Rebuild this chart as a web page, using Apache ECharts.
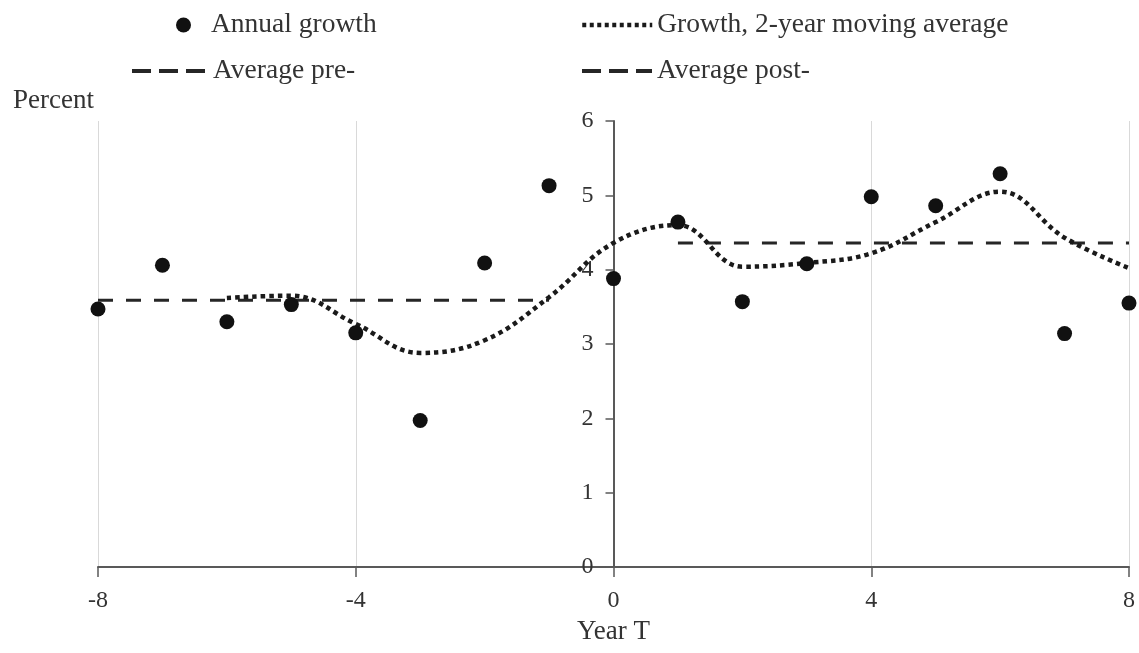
<!DOCTYPE html>
<html>
<head>
<meta charset="utf-8">
<script src="https://cdn.jsdelivr.net/npm/echarts@6/dist/echarts.min.js"></script>
<style>
html,body{margin:0;padding:0;background:#fff;}
#chart{width:1139px;height:653px;}
</style>
</head>
<body>
<div id="chart"></div>
<script>
var years = [-8,-7,-6,-5,-4,-3,-2,-1,0,1,2,3,4,5,6,7,8];
var annualGrowth = [3.47,4.06,3.30,3.53,3.15,1.97,4.09,5.13,3.88,4.64,3.57,4.08,4.98,4.86,5.29,3.14,3.55];
var maYears = [-6,-5,-4,-3,-2,-1,0,1,2,3,4,5,6,7,8];
var maValues = [3.62,3.65,3.27,2.88,3.05,3.63,4.36,4.60,4.04,4.09,4.22,4.64,5.05,4.43,4.02];
var preYears = [-8,-1];
var preAvg = 3.59;
var postYears = [1,8];
var postAvg = 4.36;

var FONT = '"Liberation Serif", "Times New Roman", serif';
var TXT = '#333333';
var INK = '#111111';

var scatterData = years.map(function(y,i){return [y, annualGrowth[i]];});
var maData = maYears.map(function(y,i){return [y, maValues[i]];});
var preData = preYears.map(function(y){return [y, preAvg];});
var postData = postYears.map(function(y){return [y, postAvg];});

var chart = echarts.init(document.getElementById('chart'), null, {renderer:'canvas'});
var legendText = {fontFamily: FONT, fontSize: 27.5, color: TXT};
var GRID_LEFT = 98, GRID_RIGHT = 10, W = 1139;
var plotW = W - GRID_LEFT - GRID_RIGHT;
var dashLegendLine = {width: 4, type: [19,8], color: '#262626'};
var dotLegendLine = {width: 4.5, type: [4,3.5], color: '#1a1a1a'};
var option = {
  animation: false,
  backgroundColor: '#ffffff',
  textStyle: {fontFamily: FONT},
  title: {
    text: 'Percent', left: 8, top: 82,
    textStyle: {fontFamily: FONT, fontSize: 27, fontWeight: 'normal', color: TXT}
  },
  legend: [
    {data: ['Annual growth'], left: 176, top: 11, padding: 0, itemWidth: 15, itemHeight: 15,
     textStyle: Object.assign({padding: [0,0,0,15]}, legendText)},
    {data: ['Growth, 2-year moving average'], left: 580, top: 11, padding: 0, itemWidth: 70, itemHeight: 14,
     itemStyle: {opacity: 0}, lineStyle: dotLegendLine, textStyle: legendText},
    {data: ['Average pre-'], left: 130, top: 57, padding: 0, itemWidth: 76, itemHeight: 14,
     itemStyle: {opacity: 0}, lineStyle: dashLegendLine, textStyle: legendText},
    {data: ['Average post-'], left: 580, top: 57, padding: 0, itemWidth: 70, itemHeight: 14,
     itemStyle: {opacity: 0}, lineStyle: dashLegendLine, textStyle: legendText}
  ],
  grid: {left: GRID_LEFT, right: GRID_RIGHT, top: 121, bottom: 86, containLabel: false},
  xAxis: {
    type: 'value', min: -8, max: 8, interval: 4,
    name: 'Year T', nameLocation: 'middle', nameGap: 51,
    nameTextStyle: {fontFamily: FONT, fontSize: 27, color: TXT},
    axisLine: {show: true, onZero: false, lineStyle: {color: '#595959', width: 2}},
    axisTick: {show: true, length: 10, lineStyle: {color: '#595959', width: 1.5}},
    axisLabel: {fontFamily: FONT, fontSize: 24, color: TXT, margin: 22},
    splitLine: {show: true, lineStyle: {color: '#d9d9d9', width: 1}}
  },
  yAxis: {
    type: 'value', min: 0, max: 6, interval: 1,
    offset: -(plotW / 2),
    axisLine: {show: true, onZero: false, lineStyle: {color: '#595959', width: 2}},
    axisTick: {show: true, length: 8, lineStyle: {color: '#595959', width: 1.5}},
    axisLabel: {fontFamily: FONT, fontSize: 24, color: TXT, margin: 20},
    splitLine: {show: false}
  },
  series: [
    {
      name: 'Average pre-', type: 'line', data: preData, symbol: 'none', z: 2,
      lineStyle: {color: '#262626', width: 3, type: [15,13]}, itemStyle: {color: '#262626'}
    },
    {
      name: 'Average post-', type: 'line', data: postData, symbol: 'none', z: 2,
      lineStyle: {color: '#262626', width: 3, type: [15,13]}, itemStyle: {color: '#262626'}
    },
    {
      name: 'Growth, 2-year moving average', type: 'line', data: maData, symbol: 'none', smooth: 0.4, z: 3,
      lineStyle: {color: '#1a1a1a', width: 4.5, type: [4.5,4]}, itemStyle: {color: '#1a1a1a'}
    },
    {
      name: 'Annual growth', type: 'scatter', data: scatterData, symbol: 'circle', symbolSize: 15, z: 5,
      itemStyle: {color: INK, opacity: 1}
    }
  ]
};
chart.setOption(option);
</script>
</body>
</html>
